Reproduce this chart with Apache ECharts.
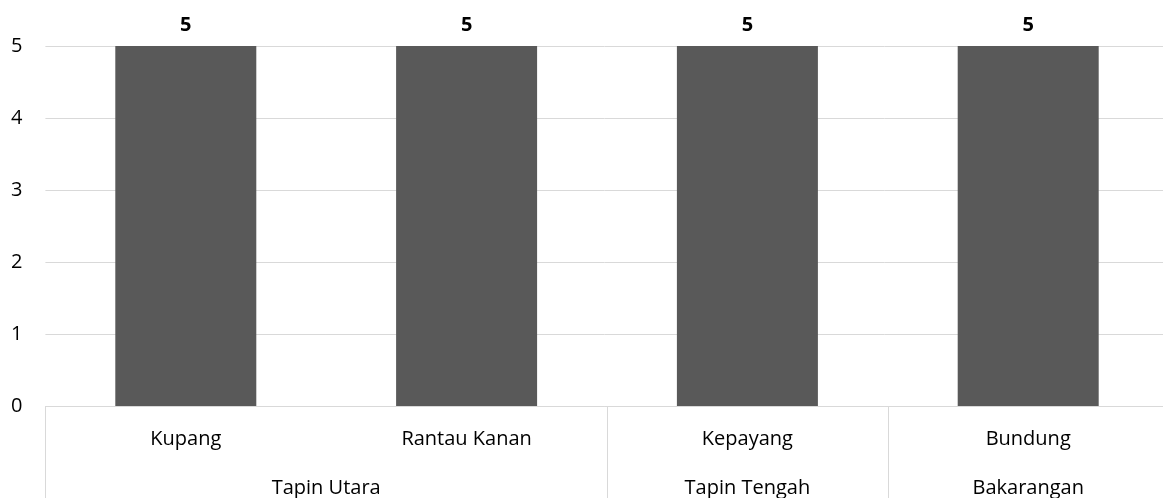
<!DOCTYPE html>
<html>
<head>
<meta charset="utf-8">
<script src="https://cdn.jsdelivr.net/npm/echarts@6/dist/echarts.min.js"></script>
<style>
html,body{margin:0;padding:0;background:#fff;}
#chart{width:1163px;height:498px;}
</style>
</head>
<body>
<div id="chart"></div>
<script>
const categories = ['Kupang', 'Rantau Kanan', 'Kepayang', 'Bundung'];
const values = [5, 5, 5, 5];
const groupNames = ['Tapin Utara', 'Tapin Tengah', 'Bakarangan'];
const groupCenters = [1, 2.5, 3.5];
const groupBounds = [0, 2, 3, 4];
const yTicks = [0, 1, 2, 3, 4, 5];

const FONT = '"Open Sans", Lato, sans-serif';
const FS = 20;
const groupLabelAt = {};
groupCenters.forEach((c, i) => { groupLabelAt[c] = groupNames[i]; });

const chart = echarts.init(document.getElementById('chart'));
chart.setOption({
  animation: false,
  textStyle: { fontFamily: FONT },
  grid: [
    { left: 45.4, top: 46, width: 1123.2, height: 360, outerBoundsMode: 'none', containLabel: false },
    { left: 45.4, top: 406, width: 1123.2, height: 92, outerBoundsMode: 'none', containLabel: false }
  ],
  xAxis: [
    {
      type: 'category', gridIndex: 0, data: categories,
      axisLine: { lineStyle: { color: '#d9d9d9', width: 1 } },
      axisTick: { show: false },
      axisLabel: { color: '#000', fontSize: FS, fontFamily: FONT, margin: 23 }
    },
    {
      type: 'value', gridIndex: 1, min: 0, max: 4, interval: 0.5,
      axisLine: { show: false }, axisTick: { show: false }, splitLine: { show: false },
      axisLabel: {
        inside: true, margin: 0, color: '#000', fontSize: FS, fontFamily: FONT,
        showMinLabel: true, showMaxLabel: true,
        formatter: v => groupLabelAt[v] || ''
      }
    }
  ],
  yAxis: [
    {
      type: 'value', gridIndex: 0, min: yTicks[0], max: yTicks[yTicks.length - 1], interval: 1,
      axisLine: { show: false }, axisTick: { show: false },
      splitLine: { lineStyle: { color: '#d9d9d9', width: 1 } },
      axisLabel: { color: '#000', fontSize: FS, fontFamily: FONT, margin: 23 }
    },
    { type: 'value', gridIndex: 1, min: 0, max: 1, show: false }
  ],
  series: [
    {
      type: 'bar', xAxisIndex: 0, yAxisIndex: 0, data: values,
      barWidth: 141,
      itemStyle: { color: '#595959' },
      label: { show: true, position: 'top', distance: 11, color: '#000', fontWeight: 'bold', fontSize: FS, fontFamily: FONT }
    },
    {
      type: 'scatter', xAxisIndex: 1, yAxisIndex: 1, data: [], symbolSize: 0, silent: true,
      markLine: {
        silent: true, symbol: 'none', label: { show: false },
        lineStyle: { color: '#d9d9d9', type: 'solid', width: 1 },
        data: groupBounds.map(b => ({ xAxis: b }))
      }
    }
  ]
});
</script>
</body>
</html>
